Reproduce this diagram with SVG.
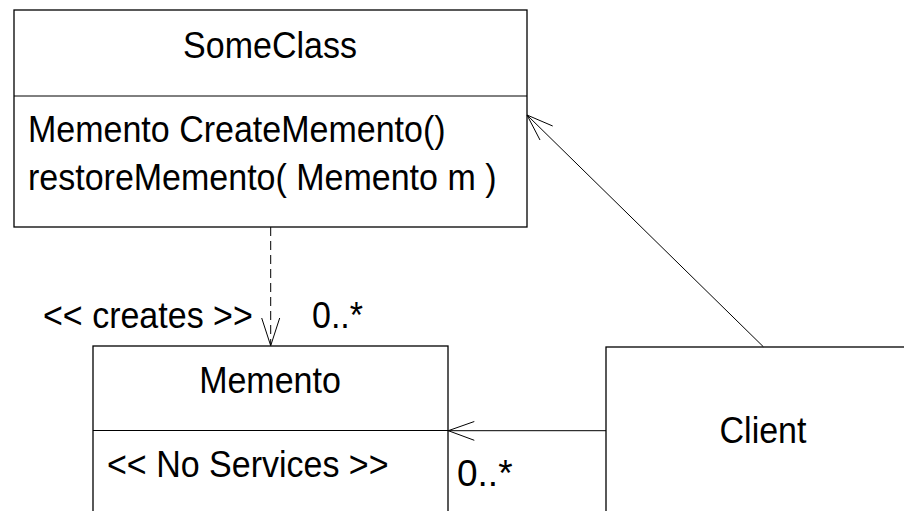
<svg xmlns="http://www.w3.org/2000/svg" width="904" height="511" viewBox="0 0 904 511">
<style>
.box{fill:#fff;stroke:#000;stroke-width:1.3}
.t{font-family:"Liberation Sans",Arial,sans-serif;font-size:34px;fill:#000}
.c{text-anchor:middle}
.ln{fill:none;stroke:#000;stroke-width:1}
</style>
<rect width="904" height="511" fill="#fff"/>
<g id="SomeClass">
<rect class="box" x="14" y="10" width="513" height="217"/>
<line class="ln" x1="14" y1="96" x2="527" y2="96" stroke-width="1.3"/>
<text class="t c" transform="translate(270,58) scale(1,1.1)">SomeClass</text>
<text class="t" transform="translate(28,142) scale(1,1.1)">Memento CreateMemento()</text>
<text class="t" transform="translate(28,190) scale(1,1.1)">restoreMemento( Memento m )</text>
</g>
<g id="Memento">
<rect class="box" x="93" y="346" width="355" height="180"/>
<line class="ln" x1="93" y1="430.5" x2="448" y2="430.5" stroke-width="1.3"/>
<text class="t c" transform="translate(270,393) scale(1,1.1)">Memento</text>
<text class="t" transform="translate(107,477) scale(1,1.1)">&lt;&lt; No Services &gt;&gt;</text>
</g>
<g id="Client">
<rect class="box" x="606" y="347" width="320" height="180"/>
<text class="t c" transform="translate(763,443) scale(1,1.1)">Client</text>
</g>
<g id="connectors">
<line class="ln" x1="270.7" y1="227" x2="270.7" y2="345" stroke-dasharray="9,5"/>
<polyline class="ln" points="261.7,318 270.7,345.7 279.7,318"/>
<text class="t" transform="translate(43,328) scale(1,1.1)">&lt;&lt; creates &gt;&gt;</text>
<text class="t" transform="translate(312,328) scale(1,1.1)">0..*</text>
<line class="ln" x1="763.3" y1="346.7" x2="527" y2="115"/>
<polyline class="ln" points="552.7,126 527,115 540,140"/>
<line class="ln" x1="606" y1="430.7" x2="448" y2="430.7"/>
<polyline class="ln" points="474.3,421.5 448.3,430.7 474.3,440.3"/>
<text class="t" transform="translate(457,486)" style="font-size:37px">0..*</text>
</g>
</svg>
